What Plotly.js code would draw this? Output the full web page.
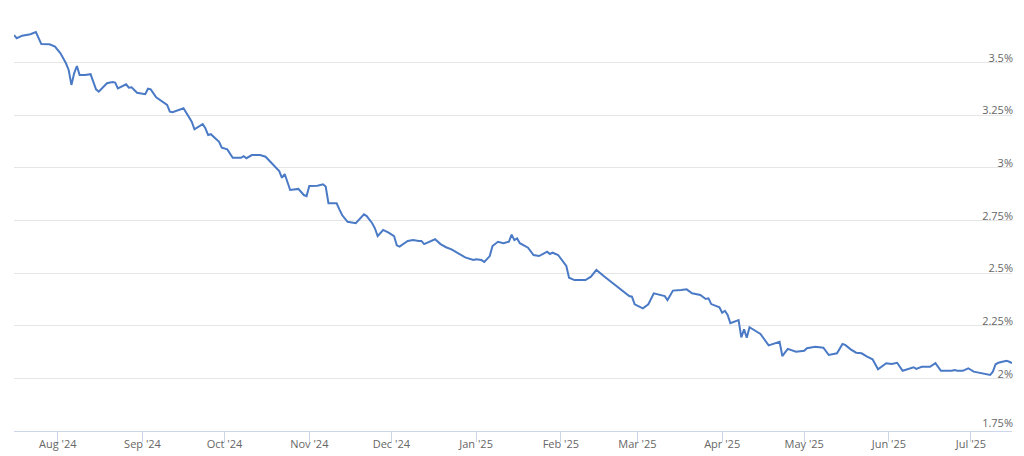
<!DOCTYPE html>
<html>
<head>
<meta charset="utf-8">
<script src="https://cdn.plot.ly/plotly-3.0.1.min.js"></script>
<style>
html,body{margin:0;padding:0;background:#fff;}
#chart{width:1024px;height:456px;}
</style>
</head>
<body>
<div id="chart"></div>
<script>
const dates = [
 '2024-07-16','2024-07-17','2024-07-19','2024-07-22','2024-07-24','2024-07-26','2024-07-29','2024-07-31',
 '2024-08-02','2024-08-04','2024-08-05','2024-08-06','2024-08-07','2024-08-08','2024-08-09','2024-08-11',
 '2024-08-13','2024-08-14','2024-08-15','2024-08-16','2024-08-19','2024-08-21','2024-08-22','2024-08-23',
 '2024-08-26','2024-08-27','2024-08-28','2024-08-30','2024-09-02','2024-09-03','2024-09-04','2024-09-06',
 '2024-09-10','2024-09-11','2024-09-12','2024-09-16','2024-09-18','2024-09-19','2024-09-20','2024-09-23',
 '2024-09-24','2024-09-25','2024-09-26','2024-09-29','2024-09-30','2024-10-02','2024-10-04','2024-10-07',
 '2024-10-08','2024-10-09','2024-10-11','2024-10-14','2024-10-16','2024-10-18','2024-10-21','2024-10-22',
 '2024-10-23','2024-10-25','2024-10-28','2024-10-30','2024-10-31','2024-11-01','2024-11-04','2024-11-06',
 '2024-11-07','2024-11-08','2024-11-11','2024-11-12','2024-11-13','2024-11-15','2024-11-18','2024-11-21',
 '2024-11-22','2024-11-24','2024-11-25','2024-11-26','2024-11-28','2024-11-30','2024-12-02','2024-12-03',
 '2024-12-04','2024-12-07','2024-12-09','2024-12-11','2024-12-12','2024-12-13','2024-12-17','2024-12-19',
 '2024-12-21','2024-12-23','2024-12-25','2024-12-28','2024-12-31','2025-01-01','2025-01-03','2025-01-04',
 '2025-01-06','2025-01-07','2025-01-09','2025-01-11','2025-01-13','2025-01-14','2025-01-15','2025-01-16',
 '2025-01-17','2025-01-20','2025-01-22','2025-01-24','2025-01-27','2025-01-28','2025-01-29','2025-01-31',
 '2025-02-03','2025-02-04','2025-02-06','2025-02-10','2025-02-12','2025-02-14','2025-02-17','2025-02-20',
 '2025-02-23','2025-02-26','2025-02-27','2025-02-28','2025-03-03','2025-03-05','2025-03-07','2025-03-10',
 '2025-03-11','2025-03-12','2025-03-14','2025-03-17','2025-03-19','2025-03-21','2025-03-24','2025-03-26',
 '2025-03-27','2025-03-28','2025-03-31','2025-04-01','2025-04-02','2025-04-03','2025-04-04','2025-04-07',
 '2025-04-08','2025-04-09','2025-04-10','2025-04-11','2025-04-14','2025-04-15','2025-04-18','2025-04-22',
 '2025-04-23','2025-04-25','2025-04-28','2025-05-01','2025-05-02','2025-05-05','2025-05-08','2025-05-10',
 '2025-05-13','2025-05-15','2025-05-16','2025-05-18','2025-05-20','2025-05-21','2025-05-22','2025-05-24',
 '2025-05-26','2025-05-28','2025-05-31','2025-06-02','2025-06-04','2025-06-06','2025-06-08','2025-06-10',
 '2025-06-11','2025-06-13','2025-06-16','2025-06-18','2025-06-20','2025-06-24','2025-06-25','2025-06-26',
 '2025-06-28','2025-06-30','2025-07-02','2025-07-05','2025-07-08','2025-07-09','2025-07-10','2025-07-11',
 '2025-07-14','2025-07-15','2025-07-16'
];
const rates = [
 3.631,3.616,3.628,3.635,3.645,3.588,3.587,3.576,
 3.544,3.497,3.465,3.394,3.449,3.484,3.441,3.441,
 3.445,3.409,3.373,3.362,3.402,3.408,3.405,3.378,
 3.397,3.381,3.383,3.357,3.350,3.376,3.373,3.335,
 3.299,3.267,3.264,3.283,3.236,3.219,3.183,3.208,
 3.188,3.156,3.160,3.124,3.096,3.088,3.048,3.048,
 3.056,3.046,3.061,3.061,3.053,3.025,2.985,2.953,
 2.971,2.895,2.900,2.871,2.866,2.914,2.915,2.922,
 2.911,2.832,2.832,2.803,2.776,2.744,2.737,2.779,
 2.771,2.737,2.713,2.676,2.705,2.692,2.676,2.632,
 2.626,2.653,2.657,2.653,2.653,2.638,2.661,2.638,
 2.623,2.613,2.597,2.575,2.562,2.566,2.562,2.553,
 2.581,2.629,2.649,2.642,2.649,2.683,2.657,2.665,
 2.642,2.621,2.586,2.581,2.602,2.591,2.597,2.586,
 2.534,2.478,2.467,2.467,2.483,2.515,2.483,2.452,
 2.420,2.391,2.388,2.352,2.333,2.352,2.404,2.393,
 2.391,2.372,2.417,2.420,2.423,2.404,2.396,2.377,
 2.380,2.353,2.338,2.312,2.321,2.301,2.262,2.277,
 2.195,2.233,2.193,2.243,2.219,2.211,2.157,2.174,
 2.106,2.140,2.127,2.131,2.143,2.150,2.146,2.111,
 2.119,2.163,2.159,2.138,2.122,2.122,2.119,2.103,
 2.091,2.043,2.072,2.068,2.074,2.036,2.043,2.053,
 2.045,2.055,2.055,2.072,2.036,2.036,2.040,2.036,
 2.036,2.048,2.032,2.024,2.016,2.032,2.067,2.074,
 2.084,2.079,2.072
];
const xTickVals = ['2024-08-01','2024-09-01','2024-10-01','2024-11-01','2024-12-01','2025-01-01',
                   '2025-02-01','2025-03-01','2025-04-01','2025-05-01','2025-06-01','2025-07-01'];
const xTickText = ["Aug '24","Sep '24","Oct '24","Nov '24","Dec '24","Jan '25",
                   "Feb '25","Mar '25","Apr '25","May '25","Jun '25","Jul '25"];
const yTickVals = [1.75,2,2.25,2.5,2.75,3,3.25,3.5,3.75];
const yTickText = ['','2%','2.25%','2.5%','2.75%','3%','3.25%','3.5%',''];
const yBottomTickVals = [1.75];
const yBottomTickText = ['1.75%'];

const trace = {
  x: dates, y: rates, type: 'scatter', mode: 'lines',
  line: {color: '#4a7ac6', width: 2}, hoverinfo: 'skip'
};
const anchorTrace = {
  x: [], y: [], type: 'scatter', mode: 'lines', yaxis: 'y2', hoverinfo: 'skip', showlegend: false
};
const yCommon = {
  range: [1.75, 3.75], side: 'right',
  ticklabelposition: 'inside top',
  ticklabelstandoff: -4,
  zeroline: false, showline: false, ticks: '',
  tickfont: {size: 11, color: '#666666'},
  automargin: false, fixedrange: true
};
const layout = {
  width: 1024, height: 456,
  margin: {l: 14, r: 12, t: 10, b: 25, pad: 0},
  paper_bgcolor: '#ffffff', plot_bgcolor: '#ffffff',
  showlegend: false,
  font: {family: '"Open Sans", "DejaVu Sans", sans-serif', size: 11, color: '#666666'},
  xaxis: {
    type: 'date', range: ['2024-07-16', '2025-07-16'],
    tickvals: xTickVals, ticktext: xTickText,
    showgrid: false, zeroline: false,
    showline: true, linecolor: '#ccd6eb', linewidth: 1,
    ticks: 'outside', ticklen: 10, tickcolor: '#ccd6eb', tickwidth: 1,
    ticklabelstandoff: -7,
    tickfont: {size: 11, color: '#666666'},
    automargin: false, fixedrange: true
  },
  yaxis: Object.assign({}, yCommon, {
    tickvals: yTickVals, ticktext: yTickText,
    ticklabelshift: 3,
    showgrid: true, gridcolor: '#e6e6e6', gridwidth: 1
  }),
  yaxis2: Object.assign({}, yCommon, {
    overlaying: 'y', anchor: 'x',
    tickvals: yBottomTickVals, ticktext: yBottomTickText,
    showgrid: false
  })
};
Plotly.newPlot('chart', [trace, anchorTrace], layout, {displayModeBar: false, staticPlot: true});
</script>
</body>
</html>
